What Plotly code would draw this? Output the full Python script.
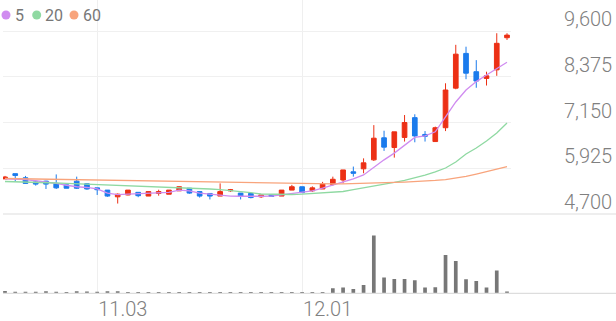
import plotly.graph_objects as go

# ---------------- data ----------------
dates = ["10.21", "10.22", "10.23", "10.24", "10.27", "10.28", "10.29", "10.30", "10.31",
         "11.03", "11.04", "11.05", "11.06", "11.07", "11.10", "11.11", "11.12", "11.13", "11.14",
         "11.17", "11.18", "11.19", "11.20", "11.21", "11.24", "11.25", "11.26", "11.27", "11.28",
         "12.01", "12.02", "12.03", "12.04", "12.05", "12.08", "12.09", "12.10", "12.11", "12.12",
         "12.15", "12.16", "12.17", "12.18", "12.19", "12.22", "12.23", "12.24", "12.26", "12.29",
         "12.30"]

open_ = [5640, 5780, 5670, 5560, 5580, 5520, 5480, 5580, 5510, 5400,
         5340, 5160, 5210, 5280, 5180, 5250, 5230, 5320, 5390, 5300,
         5250, 5180, 5320, 5260, 5250, 5160, 5210, 5180, 5340, 5430,
         5320, 5370, 5490, 5610, 5830, 5910, 6150, 6740, 6480, 6750,
         7280, 6830, 6640, 7010, 8070, 9000, 8510, 8330, 8560, 9420]
high = [5720, 5780, 5720, 5580, 5590, 5760, 5480, 5700, 5520, 5400,
        5340, 5250, 5340, 5280, 5300, 5350, 5340, 5440, 5390, 5300,
        5250, 5520, 5370, 5260, 5250, 5210, 5210, 5340, 5480, 5430,
        5440, 5560, 5700, 5880, 5970, 6190, 7080, 6930, 6900, 7350,
        7370, 6920, 7040, 8200, 9230, 9180, 8820, 8510, 9540, 9540]
low = [5640, 5580, 5520, 5460, 5370, 5370, 5390, 5370, 5350, 5210,
       5160, 4980, 5200, 5150, 5180, 5190, 5230, 5320, 5240, 5140,
       5090, 5180, 5290, 5090, 5120, 5130, 5160, 5180, 5340, 5270,
       5290, 5370, 5460, 5520, 5700, 5790, 6120, 6390, 6210, 6640,
       6620, 6640, 6640, 6920, 8040, 8310, 8080, 8140, 8400, 9360]
close = [5690, 5730, 5520, 5500, 5500, 5400, 5390, 5390, 5370, 5350,
         5180, 5230, 5340, 5190, 5300, 5300, 5340, 5430, 5260, 5180,
         5180, 5300, 5350, 5170, 5140, 5210, 5170, 5340, 5430, 5270,
         5400, 5500, 5630, 5880, 5790, 6070, 6730, 6490, 6900, 7150,
         6790, 6780, 7010, 8020, 8980, 8470, 8260, 8400, 9270, 9490]

ma5 = [5640, 5640, 5620, 5590, 5560, 5520, 5470, 5430, 5410, 5370,
       5260, 5220, 5230, 5240, 5240, 5255, 5280, 5340, 5320, 5260,
       5230, 5190, 5180, 5175, 5170, 5175, 5180, 5210, 5240, 5270,
       5320, 5390, 5470, 5540, 5640, 5745, 5960, 6150, 6330, 6550,
       6750, 6790, 6900, 7300, 7700, 8020, 8245, 8420, 8600, 8765]
ma20 = [5570, 5565, 5558, 5550, 5540, 5530, 5520, 5510, 5495, 5485,
        5477, 5465, 5450, 5442, 5433, 5423, 5413, 5400, 5390, 5380,
        5370, 5350, 5330, 5300, 5270, 5236, 5228, 5222, 5222, 5230,
        5249, 5265, 5285, 5303, 5350, 5396, 5436, 5490, 5544, 5600,
        5664, 5740, 5825, 5932, 6093, 6307, 6467, 6655, 6870, 7137]
ma60 = [5650, 5645, 5640, 5636, 5632, 5627, 5622, 5617, 5612, 5608,
        5604, 5600, 5595, 5590, 5585, 5580, 5576, 5571, 5566, 5561,
        5556, 5551, 5546, 5541, 5536, 5531, 5527, 5522, 5518, 5514,
        5510, 5507, 5505, 5506, 5510, 5517, 5525, 5535, 5545, 5556,
        5567, 5580, 5598, 5620, 5660, 5710, 5770, 5830, 5895, 5967]

volume = [44, 32, 32, 32, 40, 32, 20, 40, 36, 32,
          40, 40, 24, 20, 20, 20, 20, 24, 20, 20,
          24, 20, 20, 24, 20, 20, 24, 20, 20, 20,
          24, 24, 100, 114, 86, 166, 1154, 314, 286, 286,
          260, 114, 120, 766, 646, 280, 246, 114, 454, 34]

price_ticks = [4700, 5925, 7150, 8375, 9600]
date_ticks = ["11.03", "12.01"]
ma_names = ["5", "20", "60"]

# ---------------- style ----------------
RED = "#ec3015"
BLUE = "#1b7bec"
MA_COLORS = ["#d08cf0", "#8fd9a2", "#f8a47c"]
TXT = "#777777"
AXTXT = "#808080"
FONT = "Roboto"

W, H = 616, 321
x_left, x_right = 3, 511          # plot area px
y_price_bot, y_vol_bot = 214, 293.3
px_per_slot = 10.25

fig = go.Figure()

fig.add_trace(go.Candlestick(
    x=dates, open=open_, high=high, low=low, close=close,
    increasing=dict(line=dict(color=RED, width=1), fillcolor=RED),
    decreasing=dict(line=dict(color=BLUE, width=1), fillcolor=BLUE),
    whiskerwidth=0, xaxis="x", yaxis="y", hoverinfo="skip",
))

for vals, col in zip([ma5, ma20, ma60], MA_COLORS):
    fig.add_trace(go.Scatter(x=dates, y=vals, mode="lines",
                             line=dict(color=col, width=1.3),
                             xaxis="x", yaxis="y", hoverinfo="skip"))

fig.add_trace(go.Bar(x=dates, y=volume, marker=dict(color="#777777", line=dict(width=0)),
                     xaxis="x2", yaxis="y2", hoverinfo="skip"))

# axis geometry
xdom = [x_left / W, x_right / W]
x0 = -(5 - x_left) / px_per_slot
x1 = len(dates) - 1 + (x_right - 507) / px_per_slot
price_dom = [(H - y_price_bot) / H, 1.0]
vol_dom = [(H - y_vol_bot) / H, (H - y_price_bot) / H]
pmin = price_ticks[0]
pmax = pmin + (price_ticks[-1] - pmin) * (y_price_bot / (y_price_bot - 31))
vmax = 20 * (y_vol_bot - y_price_bot)

fig.update_layout(
    width=W, height=H,
    margin=dict(l=0, r=0, t=0, b=0, autoexpand=False),
    paper_bgcolor="white", plot_bgcolor="white",
    showlegend=False,
    boxgap=0.35, bargap=0.64,
    font=dict(family=FONT, color=TXT),
    xaxis=dict(domain=xdom, anchor="y", type="category", range=[x0, x1],
               rangeslider=dict(visible=False), showticklabels=False, automargin=False,
               tickvals=date_ticks, showgrid=True, gridcolor="#efefef", gridwidth=1,
               zeroline=False, showline=False, ticks=""),
    yaxis=dict(domain=price_dom, anchor="x", range=[pmin, pmax], side="right",
               tickvals=price_ticks, ticktext=[f"{v:,}" for v in price_ticks],
               showgrid=True, gridcolor="#f0f0f0", gridwidth=1, zeroline=False,
               showline=False, ticks="", ticklabelstandoff=52, ticklabelshift=-12,
               automargin=False,
               tickfont=dict(size=20, color=AXTXT, family=FONT, weight=300)),
    xaxis2=dict(domain=xdom, anchor="y2", matches="x", type="category",
                tickvals=date_ticks, ticktext=date_ticks, automargin=False,
                showgrid=True, gridcolor="#efefef", gridwidth=1, zeroline=False,
                showline=False, ticks="", ticklabelposition="outside right",
                ticklabelshift=1, ticklabelstandoff=2,
                tickfont=dict(size=20, color=AXTXT, family=FONT, weight=300)),
    yaxis2=dict(domain=vol_dom, anchor="x2", range=[0, vmax], showgrid=False,
                showticklabels=False, zeroline=False, showline=False, ticks="",
                automargin=False),
)

# panel separator lines (extend to right edge)
for yy in [y_price_bot, y_vol_bot]:
    fig.add_shape(type="line", xref="paper", yref="paper",
                  x0=x_left / W, x1=1, y0=(H - yy) / H, y1=(H - yy) / H,
                  line=dict(color="#dddddd", width=1.2), layer="above")

# legend: colored dots + labels
leg_x = [6, 36.7, 74]
for lx, col, name in zip(leg_x, MA_COLORS, ma_names):
    fig.add_shape(type="circle", xref="paper", yref="paper",
                  xsizemode="pixel", ysizemode="pixel",
                  xanchor=lx / W, yanchor=(H - 15) / H,
                  x0=-4.5, x1=4.5, y0=-4.5, y1=4.5,
                  fillcolor=col, line=dict(width=0))
    fig.add_annotation(xref="paper", yref="paper", x=(lx + 6.5) / W, y=(H - 15) / H,
                       xanchor="left", yanchor="middle", text=name, showarrow=False,
                       font=dict(size=16, color=TXT, family=FONT))

fig.write_html("out.html")
